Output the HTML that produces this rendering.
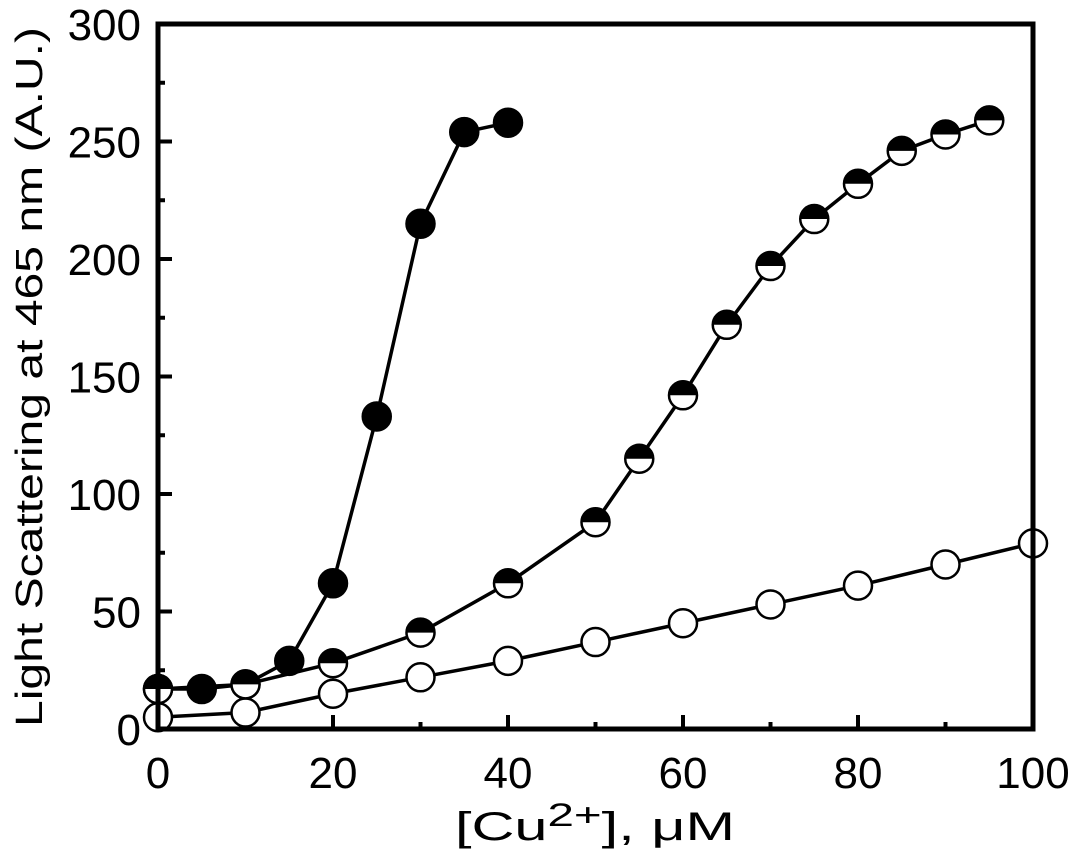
<!DOCTYPE html>
<html><head><meta charset="utf-8"><style>
html,body{margin:0;padding:0;background:#fff;}
svg{display:block;font-family:"Liberation Sans",Arial,sans-serif;}
</style></head><body>
<svg id="chart" width="1072" height="852" viewBox="0 0 1072 852">
<g id="plot"></g>
<text x="595" y="840" font-size="40" text-anchor="middle" textLength="280" lengthAdjust="spacingAndGlyphs">[Cu<tspan dy="-14" font-size="32">2+</tspan><tspan dy="14">], μM</tspan></text>
<text transform="translate(42,377) rotate(-90)" font-size="38" text-anchor="middle" textLength="700" lengthAdjust="spacingAndGlyphs">Light Scattering at 465 nm (A.U.)</text>
</svg>
<script>
const xTicks=[0,20,40,60,80,100];
const yTicks=[0,50,100,150,200,250,300];
const filledX=[0,5,10,15,20,25,30,35,40];
const filledY=[17,17,19,29,62,133,215,254,258];
const halfX=[0,10,20,30,40,50,55,60,65,70,75,80,85,90,95];
const halfY=[17,19,28,41,62,88,115,142,172,197,217,232,246,253,259];
const openX=[0,10,20,30,40,50,60,70,80,90,100];
const openY=[5,7,15,22,29,37,45,53,61,70,79];

const X0=158,X1=1033,Y0=729,Y1=24;
const sx=v=>X0+(X1-X0)*v/100;
const sy=v=>Y0-(Y0-Y1)*v/300;
const NS="http://www.w3.org/2000/svg";
const g=document.getElementById('plot');
function el(t,a,p){const e=document.createElementNS(NS,t);for(const k in a)e.setAttribute(k,a[k]);(p||g).appendChild(e);return e;}

for(let i=0;i<=10;i++){const v=i*10;const major=i%2===0;
 const t=el('line',{x1:sx(v),x2:sx(v),y1:Y0,y2:Y0-(major?14:7),stroke:'#000','stroke-width':4});
 
 }
for(let i=0;i<=12;i++){const v=i*25;const major=i%2===0;
 const t=el('line',{x1:X0,x2:X0+(major?14:7),y1:sy(v),y2:sy(v),stroke:'#000','stroke-width':4});
 
 }
xTicks.forEach(v=>{const t=el('text',{x:sx(v),y:788,'font-size':44,'text-anchor':'middle'});t.textContent=v;
 
 });
yTicks.forEach(v=>{const t=el('text',{x:141,y:sy(v)+16,'font-size':44,'text-anchor':'end'});t.textContent=v;
 
 });

function series(xs,ys,kind,name){
 const sg=el('g',{});
 
 
 const pl=el('polyline',{points:xs.map((x,i)=>sx(x)+','+sy(ys[i])).join(' '),fill:'none',stroke:'#000','stroke-width':3.5},sg);
 
 
 xs.forEach((x,i)=>{const cx=sx(x),cy=sy(ys[i]),r=14;
  const c=el('circle',{cx:cx,cy:cy,r:r,fill:kind==='filled'?'#000':'#fff',stroke:'#000','stroke-width':2.5},sg);
  
  
  if(kind==='half'){const h=el('path',{d:`M${cx-r} ${cy} A${r} ${r} 0 0 1 ${cx+r} ${cy} Z`,fill:'#000'},sg);
   
   }
 });
}
series(openX,openY,'open','series-open');
series(filledX,filledY,'filled','series-filled');
series(halfX,halfY,'half','series-half');

const f=el('rect',{x:X0,y:Y1,width:X1-X0,height:Y0-Y1,fill:'none',stroke:'#000','stroke-width':5});


</script>
</body></html>
